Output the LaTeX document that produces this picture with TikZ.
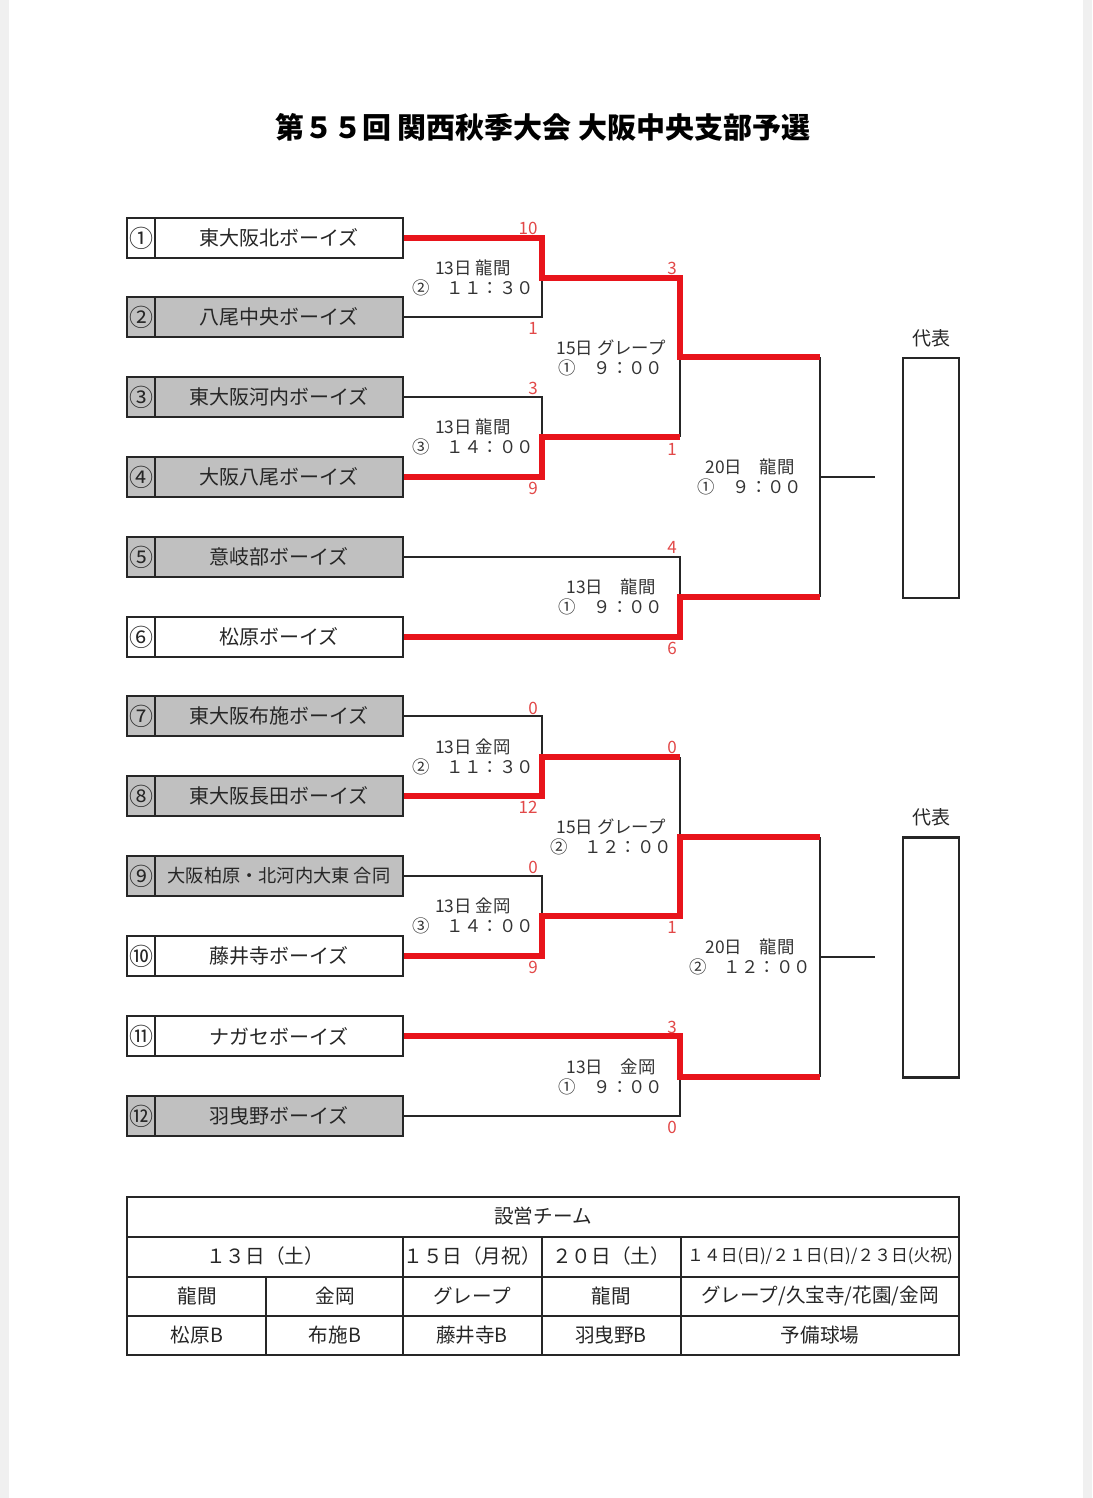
\documentclass[tikz,border=0pt]{standalone}
\usepackage{fontspec}
\setmainfont{Noto Sans CJK JP}
\definecolor{winred}{HTML}{E8141B}
\definecolor{scorered}{HTML}{E24848}
\definecolor{boxgray}{HTML}{C0C0C0}
\tikzset{
  numbox/.style={draw=black!85, line width=1.1pt, minimum width=14pt, minimum height=20pt, inner sep=0pt, font=\fontsize{12}{12}\selectfont, text=black!85},
  namebox/.style={draw=black!85, line width=1.1pt, minimum width=124pt, minimum height=20pt, inner sep=0pt, font=\fontsize{10}{10}\selectfont, text=black!85},
  shaded/.style={fill=boxgray},
  blk/.style={draw=black!85, line width=1pt},
  win/.style={draw=winred, line width=2.6pt, line join=miter},
  score/.style={text=scorered, font=\fontsize{8.5}{8.5}\selectfont, inner sep=0pt},
  mlabel/.style={text=black!80, font=\fontsize{8.7}{10}\selectfont, align=center, inner sep=0pt},
  repbox/.style={draw=black!85, line width=1.1pt, minimum width=28pt, minimum height=120pt, inner sep=0pt},
  replabel/.style={text=black!85, font=\fontsize{9.5}{10}\selectfont, inner sep=0pt},
  tline/.style={draw=black!85, line width=1.1pt},
  ttext/.style={text=black!85, font=\fontsize{9.8}{10}\selectfont, inner sep=0pt}
}
\begin{document}
\begin{tikzpicture}[x=0.5pt,y=-0.5pt]
\useasboundingbox (0,0) rectangle (1092,1498);
\fill[white] (0,0) rectangle (1092,1498);
\fill[gray!12] (0,0) rectangle (9,1498);
\fill[gray!12] (1083,0) rectangle (1092,1498);

% title
\node[text=black, font=\fontsize{14.5}{15}\selectfont\bfseries, inner sep=0pt] (title) at (543,127) {第５５回 関西秋季大会 大阪中央支部予選};

% teams
\node[numbox] (n1) at (141,238) {①};
\node[namebox] (t1) at (279,238) {東大阪北ボーイズ};
\node[numbox, shaded] (n2) at (141,317) {②};
\node[namebox, shaded] (t2) at (279,317) {八尾中央ボーイズ};
\node[numbox, shaded] (n3) at (141,397) {③};
\node[namebox, shaded] (t3) at (279,397) {東大阪河内ボーイズ};
\node[numbox, shaded] (n4) at (141,477) {④};
\node[namebox, shaded] (t4) at (279,477) {大阪八尾ボーイズ};
\node[numbox, shaded] (n5) at (141,557) {⑤};
\node[namebox, shaded] (t5) at (279,557) {意岐部ボーイズ};
\node[numbox] (n6) at (141,637) {⑥};
\node[namebox] (t6) at (279,637) {松原ボーイズ};
\node[numbox, shaded] (n7) at (141,716) {⑦};
\node[namebox, shaded] (t7) at (279,716) {東大阪布施ボーイズ};
\node[numbox, shaded] (n8) at (141,796) {⑧};
\node[namebox, shaded] (t8) at (279,796) {東大阪長田ボーイズ};
\node[numbox, shaded] (n9) at (141,876) {⑨};
\node[namebox, shaded, font=\fontsize{9.1}{10}\selectfont] (t9) at (279,876) {大阪柏原・北河内大東 合同};
\node[numbox] (n10) at (141,956) {⑩};
\node[namebox] (t10) at (279,956) {藤井寺ボーイズ};
\node[numbox] (n11) at (141,1036) {⑪};
\node[namebox] (t11) at (279,1036) {ナガセボーイズ};
\node[numbox, shaded] (n12) at (141,1116) {⑫};
\node[namebox, shaded] (t12) at (279,1116) {羽曳野ボーイズ};

% junctions
\coordinate (jA) at (542,278);
\coordinate (jB) at (542,437);
\coordinate (jC) at (680,357);
\coordinate (jD) at (680,597);
\coordinate (jE) at (542,757);
\coordinate (jF) at (542,916);
\coordinate (jG) at (680,837);
\coordinate (jH) at (680,1077);
\coordinate (jF1) at (820,477);
\coordinate (jF2) at (820,957);
\coordinate (e1) at (875,477);
\coordinate (e2) at (875,957);

% black lines
\draw[blk] (t2.east) -| (jA);
\draw[blk] (t3.east) -| (jB);
\draw[blk] (jB -| jC) -- (jC);
\draw[blk] (t5.east) -| (jD);
\draw[blk] (jC -| jF1) -- (jD -| jF1);
\draw[blk] (jF1) -- (e1);
\draw[blk] (t7.east) -| (jE);
\draw[blk] (jE -| jG) -- (jG);
\draw[blk] (t9.east) -| (jF);
\draw[blk] (t12.east) -| (jH);
\draw[blk] (jG -| jF2) -- (jH -| jF2);
\draw[blk] (jF2) -- (e2);

% winners
\draw[win] (t1.east) -| (jA) -| (jC) -- (jC -| jF1);
\draw[win] (t4.east) -| (jB) -- (jB -| jC);
\draw[win] (t6.east) -| (jD) -- (jD -| jF1);
\draw[win] (t8.east) -| (jE) -- (jE -| jG);
\draw[win] (t10.east) -| (jF) -| (jG) -- (jG -| jF2);
\draw[win] (t11.east) -| (jH) -- (jH -| jF2);

% scores
\node[score] (sA1) at (528,228) {10};
\node[score] (sA2) at (533,328) {1};
\node[score] (sB1) at (533,388) {3};
\node[score] (sB2) at (533,488) {9};
\node[score] (sC1) at (672,268) {3};
\node[score] (sC2) at (672,449) {1};
\node[score] (sD1) at (672,547) {4};
\node[score] (sD2) at (672,648) {6};
\node[score] (sE1) at (533,708) {0};
\node[score] (sE2) at (528,807) {12};
\node[score] (sF1) at (533,867) {0};
\node[score] (sF2) at (533,967) {9};
\node[score] (sG1) at (672,747) {0};
\node[score] (sG2) at (672,927) {1};
\node[score] (sH1) at (672,1027) {3};
\node[score] (sH2) at (672,1127) {0};

% match labels
\node[mlabel] (lA) at (473,278) {13日 龍間\\②　１１：３０};
\node[mlabel] (lB) at (473,437) {13日 龍間\\③　１４：００};
\node[mlabel] (lC) at (611,358) {15日 グレープ\\①　９：００};
\node[mlabel] (lD) at (611,597) {13日　龍間\\①　９：００};
\node[mlabel] (lF1) at (750,477) {20日　龍間\\①　９：００};
\node[mlabel] (lE) at (473,757) {13日 金岡\\②　１１：３０};
\node[mlabel] (lF) at (473,916) {13日 金岡\\③　１４：００};
\node[mlabel] (lG) at (611,837) {15日 グレープ\\②　１２：００};
\node[mlabel] (lH) at (611,1077) {13日　金岡\\①　９：００};
\node[mlabel] (lF2) at (750,957) {20日　龍間\\②　１２：００};

% representatives
\node[replabel] (rl1) at (931,338) {代表};
\node[repbox] (r1) at (931,478) {};
\node[replabel] (rl2) at (931,817) {代表};
\node[repbox] (r2) at (931,957.5) {};

% table
\draw[tline] (127,1197) rectangle (959,1355);
\draw[tline] (127,1237) -- (959,1237);
\draw[tline] (127,1277) -- (959,1277);
\draw[tline] (127,1316) -- (959,1316);
\draw[tline] (403,1237) -- (403,1355);
\draw[tline] (542,1237) -- (542,1355);
\draw[tline] (681,1237) -- (681,1355);
\draw[tline] (266,1277) -- (266,1355);

\node[ttext] (h0) at (543,1216) {設営チーム};
\node[ttext] (d1) at (265,1256) {１３日（土）};
\node[ttext] (d2) at (472,1256) {１５日（月祝）};
\node[ttext] (d3) at (611,1256) {２０日（土）};
\node[ttext, font=\fontsize{8.4}{9}\selectfont] (d4) at (820,1256) {１４日(日)/２１日(日)/２３日(火祝)};
\node[ttext] (v1) at (197,1296) {龍間};
\node[ttext] (v2) at (335,1296) {金岡};
\node[ttext] (v3) at (472,1296) {グレープ};
\node[ttext] (v4) at (611,1296) {龍間};
\node[ttext] (v5) at (820,1296) {グレープ/久宝寺/花園/金岡};
\node[ttext] (m1) at (197,1335) {松原B};
\node[ttext] (m2) at (335,1335) {布施B};
\node[ttext] (m3) at (472,1335) {藤井寺B};
\node[ttext] (m4) at (611,1335) {羽曳野B};
\node[ttext] (m5) at (820,1335) {予備球場};
\end{tikzpicture}
\end{document}
